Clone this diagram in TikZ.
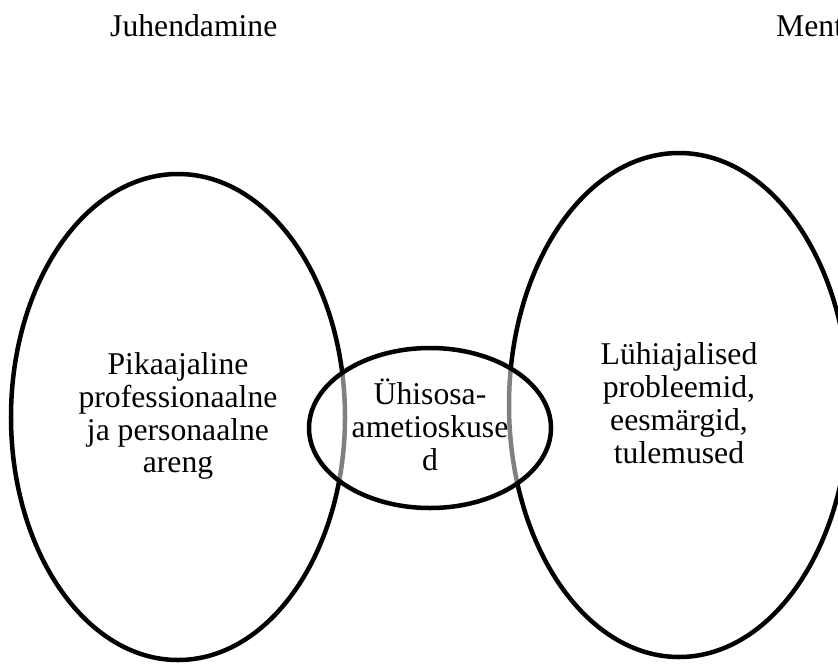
\documentclass[tikz,border=0pt]{standalone}
\usepackage{fontspec}
\setmainfont{Liberation Serif}
\usetikzlibrary{shapes.geometric}
\begin{document}
\begin{tikzpicture}[x=1bp,y=-1bp,
  ring/.style={draw=black, line width=4.5bp, ellipse, inner sep=0pt},
  txt/.style={inner sep=0pt, align=center, font=\fontsize{31.8}{33}\selectfont}]
\useasboundingbox (0,0) rectangle (838,664);
\clip (0,0) rectangle (838,664);
\node[ring, minimum width=334bp, minimum height=486bp] (left) at (178,417) {};
\node[ring, minimum width=340bp, minimum height=504bp] (right) at (679,405) {};
\node[ring, fill=white, fill opacity=0.5, minimum width=242bp, minimum height=160bp] (mid) at (430,428) {};
\node[txt] (ltext) at (178,416) {Pikaajaline\\professionaalne\\ja personaalne\\areng};
\node[txt] (rtext) at (679,403) {Lühiajalised\\probleemid,\\eesmärgid,\\tulemused};
\node[txt] (mtext) at (430,425) {Ühisosa-\\ametioskuse\\d};
\node[txt, anchor=base west] (h1) at (110,37) {Juhendamine};
\node[txt, anchor=base west] (h2) at (776,37) {Mentorlus};
\end{tikzpicture}
\end{document}
